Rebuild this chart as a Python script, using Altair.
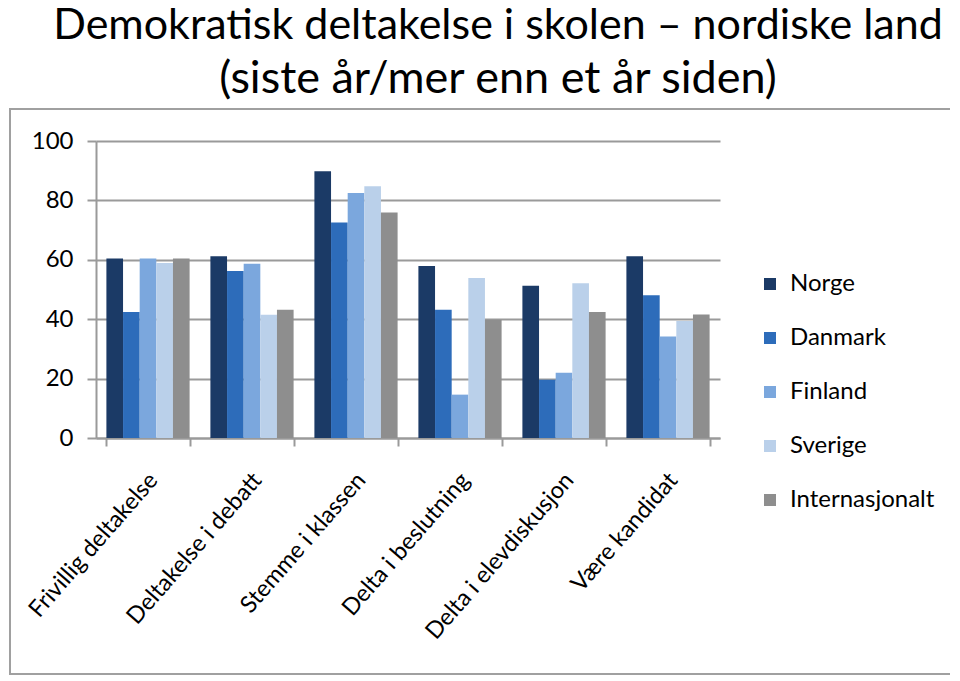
import altair as alt
import pandas as pd

categories = ["Frivillig deltakelse", "Deltakelse i debatt", "Stemme i klassen",
              "Delta i beslutning", "Delta i elevdiskusjon", "Være kandidat"]
series = ["Norge", "Danmark", "Finland", "Sverige", "Internasjonalt"]
norge = [60.4, 61.2, 89.8, 57.9, 51.3, 61.2]
danmark = [42.4, 56.2, 72.6, 43.2, 19.6, 48.1]
finland = [60.4, 58.7, 82.5, 14.6, 22.0, 34.2]
sverige = [58.9, 41.5, 84.8, 53.9, 52.1, 39.4]
internasjonalt = [60.4, 43.2, 75.9, 39.8, 42.4, 41.6]
colors = ["#1B3A66", "#2D6CBA", "#7BA7DD", "#BAD0EA", "#8E8E8E"]

values = {"Norge": norge, "Danmark": danmark, "Finland": finland,
          "Sverige": sverige, "Internasjonalt": internasjonalt}
rows = []
for s in series:
    for c, v in zip(categories, values[s]):
        rows.append({"kategori": c, "land": s, "verdi": v})
df = pd.DataFrame(rows)

FONT = "Lato"
W, H = 624, 297

bars = alt.Chart(df).mark_bar().encode(
    x=alt.X("kategori:N", sort=categories, title=None,
            scale=alt.Scale(paddingInner=0.2, paddingOuter=0.1),
            axis=alt.Axis(labelAngle=311, labelAlign="right", labelBaseline="middle",
                          labelFontSize=23.5, labelFont=FONT, labelColor="#000000",
                          labelPadding=30, labelOffset=5, tickBand="extent", tickSize=8,
                          tickColor="#9A9A9A", tickWidth=2, domainColor="#9A9A9A",
                          domainWidth=2, grid=False, labelLimit=400)),
    xOffset=alt.XOffset("land:N", sort=series, scale=alt.Scale(paddingInner=0, paddingOuter=0)),
    y=alt.Y("verdi:Q", title=None,
            scale=alt.Scale(domain=[0, 100], nice=False),
            axis=alt.Axis(values=[0, 20, 40, 60, 80, 100], labelFontSize=24, labelFont=FONT,
                          labelColor="#000000", labelPadding=14, tickSize=9,
                          tickColor="#9A9A9A", tickWidth=2, domainColor="#9A9A9A",
                          domainWidth=2, gridColor="#9A9A9A", gridWidth=2)),
    color=alt.Color("land:N", sort=series,
                    scale=alt.Scale(domain=series, range=colors),
                    legend=alt.Legend(title=None, orient="none", legendX=662, legendY=131,
                                      symbolType="square", symbolSize=144,
                                      symbolStrokeWidth=0, labelFontSize=24,
                                      labelFont=FONT, labelColor="#000000",
                                      labelOffset=8, rowPadding=30)),
)

frame = alt.Chart(alt.Data(values=[{}])).mark_rect(
    fill=None, stroke="#A0A0A0", strokeWidth=2
).encode(
    x=alt.value(-86), x2=alt.value(857),
    y=alt.value(-32), y2=alt.value(533),
)

chart = alt.layer(frame, bars).properties(
    width=W, height=H,
    padding={"left": 88, "top": 133, "right": 230, "bottom": 238},
    autosize=alt.AutoSizeParams(type="none"),
    title=alt.Title(
        text="Demokratisk deltakelse i skolen – nordiske land",
        subtitle="(siste år/mer enn et år siden)",
        font=FONT, fontSize=43, fontWeight="normal", color="#000000",
        subtitleFont=FONT, subtitleFontSize=45, subtitleColor="#000000",
        subtitlePadding=9,
        anchor="middle", dx=90, offset=6,
    ),
).configure_view(stroke=None)

chart.save("out.html", embed_options={"renderer": "svg", "actions": False})
